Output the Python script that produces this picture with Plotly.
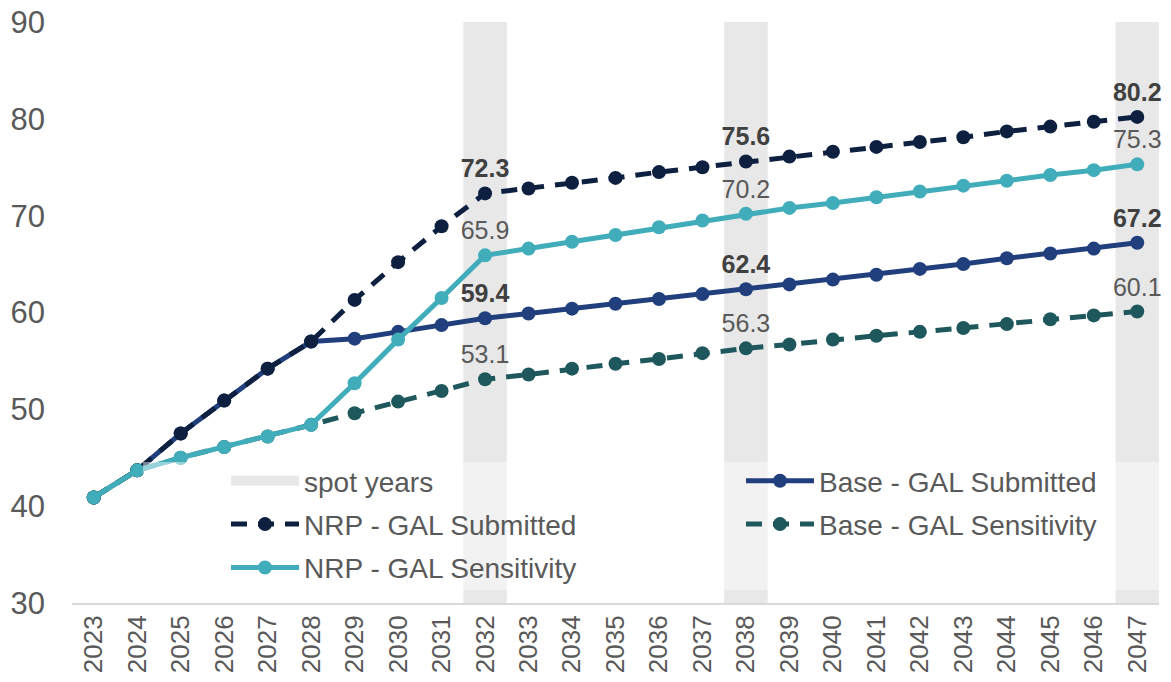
import plotly.graph_objects as go

# -----------------------------
# Data
# -----------------------------
years = list(range(2023, 2048))

nrp_submitted = [40.9, 43.7, 47.5, 50.9, 54.2, 57.0, 61.3, 65.2, 68.9, 72.3,
                 72.8, 73.4, 73.9, 74.5, 75.0, 75.6, 76.1, 76.6, 77.1, 77.6,
                 78.1, 78.7, 79.2, 79.7, 80.2]
base_submitted = [40.9, 43.7, 47.5, 50.9, 54.2, 57.0, 57.3, 58.0, 58.7, 59.4,
                  59.9, 60.4, 60.9, 61.4, 61.9, 62.4, 62.9, 63.4, 63.9, 64.5,
                  65.0, 65.6, 66.1, 66.6, 67.2]
nrp_sensitivity = [40.9, 43.7, 45.0, 46.1, 47.2, 48.4, 52.7, 57.2, 61.5, 65.9,
                   66.6, 67.3, 68.0, 68.8, 69.5, 70.2, 70.8, 71.3, 71.9, 72.5,
                   73.1, 73.6, 74.2, 74.7, 75.3]
base_sensitivity = [40.9, 43.7, 45.0, 46.1, 47.2, 48.4, 49.6, 50.8, 51.9, 53.1,
                    53.6, 54.2, 54.7, 55.2, 55.8, 56.3, 56.7, 57.2, 57.6, 58.0,
                    58.4, 58.8, 59.3, 59.7, 60.1]

spot_years = [2032, 2038, 2047]

y_min, y_max = 30, 90
FONT = "Arial, Liberation Sans, sans-serif"
SPOT_COLOR = "#e8e8e8"

# plot area in pixels (figure is 1171 x 682)
L, R, T, B = 72, 12, 22, 79
PW, PH = 1171 - L - R, 682 - T - B


def px_x(px):
    return (px - L) / PW


def px_y(px):
    return (682 - B - px) / PH


def spot_labels(values):
    return [f"{v:.1f}" if yr in spot_years else "" for yr, v in zip(years, values)]


def series(values, name, color, dash, bold, legend):
    return go.Scatter(
        x=years, y=values, name=name,
        mode="lines+markers+text",
        line=dict(color=color, width=5, dash=dash),
        marker=dict(color=color, size=14),
        text=spot_labels(values),
        textposition="top center",
        textfont=dict(family=FONT, size=25,
                      color="#404040" if bold else "#595959",
                      weight="bold" if bold else "normal"),
        legend=legend, legendgroup=name,
        cliponaxis=False,
    )


fig = go.Figure()

# spot year bands
fig.add_trace(go.Bar(
    x=spot_years, y=[y_max] * len(spot_years),
    width=1, marker=dict(color=SPOT_COLOR, line=dict(width=0)),
    showlegend=False, hoverinfo="skip",
))
# legend key for the bands (a wide flat bar, like the original)
fig.add_trace(go.Scatter(
    x=[None], y=[None], mode="lines", name="spot years",
    line=dict(color=SPOT_COLOR, width=14),
    legend="legend", legendgroup="spot years",
))

fig.add_trace(series(base_submitted, "Base - GAL Submitted", "#203f7c", "solid", True, "legend2"))
fig.add_trace(series(nrp_submitted, "NRP - GAL Submitted", "#0d2040", "16px,11px", True, "legend"))
fig.add_trace(series(base_sensitivity, "Base - GAL Sensitivity", "#1f585c", "16px,11px", False, "legend2"))
fig.add_trace(series(nrp_sensitivity, "NRP - GAL Sensitivity", "#41adba", "solid", False, "legend"))

legend_style = dict(
    orientation="v",
    y=px_y(456), yanchor="top",
    bgcolor="rgba(0,0,0,0)",
    font=dict(family=FONT, size=28, color="#595959"),
    itemwidth=68,
    tracegroupgap=4,
    traceorder="grouped",
)

fig.update_layout(
    width=1171, height=682,
    margin=dict(l=L, r=R, t=T, b=B),
    plot_bgcolor="white", paper_bgcolor="white",
    font=dict(family=FONT, color="#595959"),
    showlegend=True,
    legend=dict(x=px_x(226), xanchor="left", **legend_style),
    legend2=dict(x=px_x(741), xanchor="left", **legend_style),
    # translucent legend box, lightening whatever sits beneath it
    shapes=[dict(
        type="rect", xref="paper", yref="paper", layer="above",
        x0=px_x(143), x1=1, y0=px_y(590), y1=px_y(462),
        fillcolor="rgba(255,255,255,0.45)", line=dict(width=0),
    )],
    xaxis=dict(
        range=[years[0] - 0.5, years[-1] + 0.5],
        tickmode="linear", dtick=1, tick0=years[0],
        tickangle=-90,
        tickfont=dict(size=26, color="#595959"),
        showgrid=False, zeroline=False,
        showline=True, linecolor="#d9d9d9", linewidth=2,
        ticks="", ticklabelstandoff=0, automargin=False,
    ),
    yaxis=dict(
        range=[y_min, y_max],
        tickmode="linear", dtick=10, tick0=y_min,
        tickfont=dict(size=31, color="#595959"),
        showgrid=False, zeroline=False, showline=False,
        ticks="", ticklabelstandoff=26, automargin=False,
    ),
)

fig.write_html("out.html", config={"displayModeBar": False},
               post_script="document.body.style.margin='0';")
